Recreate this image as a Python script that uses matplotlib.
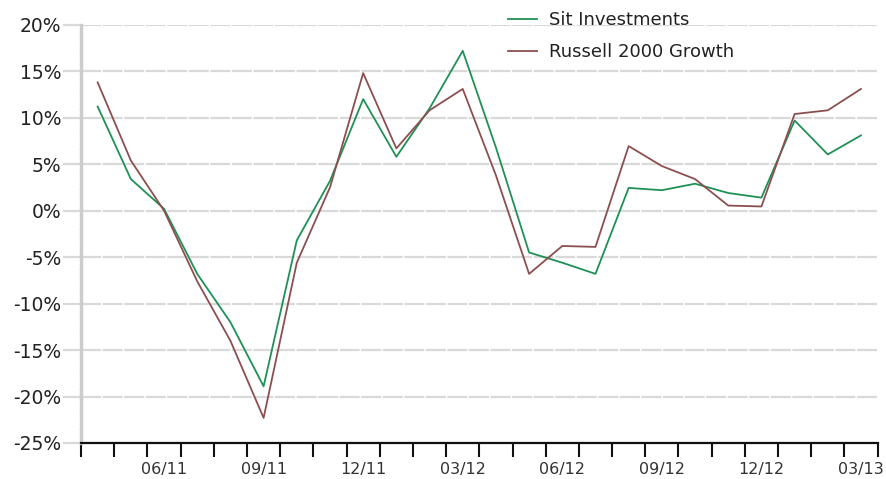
import numpy as np
import matplotlib
matplotlib.use("Agg")
import matplotlib.pyplot as plt
from matplotlib.ticker import FuncFormatter

# monthly returns, 04/11 .. 03/13 (percent)
months = ['04/11', '05/11', '06/11', '07/11', '08/11', '09/11', '10/11', '11/11',
          '12/11', '01/12', '02/12', '03/12', '04/12', '05/12', '06/12', '07/12',
          '08/12', '09/12', '10/12', '11/12', '12/12', '01/13', '02/13', '03/13']
sit = [11.2, 3.4, 0.2, -6.8, -12.0, -18.9, -3.2, 3.2, 12.0, 5.8, 11.0, 17.2,
       6.8, -4.5, -5.6, -6.8, 2.45, 2.2, 2.9, 1.9, 1.4, 9.7, 6.05, 8.1]
russell = [13.8, 5.4, 0.0, -7.6, -14.0, -22.3, -5.6, 2.5, 14.8, 6.7, 10.8, 13.1,
           3.8, -6.8, -3.8, -3.9, 6.95, 4.8, 3.4, 0.55, 0.45, 10.4, 10.8, 13.1]
shown_labels = ['06/11', '09/11', '12/11', '03/12', '06/12', '09/12', '12/12', '03/13']

GREEN = '#1f9155'
BROWN = '#8c4f4f'
GRID = '#d9d9d9'
TEXT = '#333333'

x = np.arange(len(months))

fig = plt.figure(figsize=(8.86, 4.79), dpi=100)
ax = fig.add_axes([0.0915, 0.0752, 0.899, 0.873])

ax.plot(x, sit, color=GREEN, lw=1.3, label='Sit Investments', zorder=3)
ax.plot(x, russell, color=BROWN, lw=1.3, label='Russell 2000 Growth', zorder=3)

ax.set_xlim(-0.5, len(months) - 0.5)
ax.set_ylim(-25, 20)

# y axis
ax.set_yticks(np.arange(-25, 21, 5))
ax.yaxis.set_major_formatter(FuncFormatter(lambda v, p: f'{v:.0f}%'))
ax.tick_params(axis='y', length=13, width=1.6, color=GRID, labelsize=13.5,
               labelcolor='#222222', pad=1)
ax.grid(axis='y', color=GRID, lw=1.6, linestyle=(0, (9, 0.7)), zorder=0)

# x axis: boundary ticks + labels on data points
ax.set_xticks(np.arange(-0.5, len(months), 1.0))
ax.set_xticklabels([])
ax.tick_params(axis='x', which='major', direction='out', length=10, width=1.5,
               color='#111111')
lab_pos = [months.index(m) for m in shown_labels]
ax.set_xticks(lab_pos, minor=True)
ax.set_xticklabels(shown_labels, minor=True)
ax.tick_params(axis='x', which='minor', length=0, pad=14, labelsize=11.5,
               labelcolor=TEXT)

for s in ['top', 'right']:
    ax.spines[s].set_visible(False)
ax.spines['bottom'].set_color('#111111')
ax.spines['bottom'].set_linewidth(1.6)
ax.spines['left'].set_color('#cccccc')
ax.spines['left'].set_linewidth(2.4)
ax.spines['left'].set_linestyle((0, (1.0, 0.5)))

ax.legend(loc='upper left', bbox_to_anchor=(0.563, 0.995), bbox_transform=fig.transFigure,
          frameon=False, fontsize=13, handlelength=1.6, handletextpad=0.7,
          labelspacing=0.75, borderpad=0, labelcolor='#222222')

fig.savefig('out.png', dpi=100)
